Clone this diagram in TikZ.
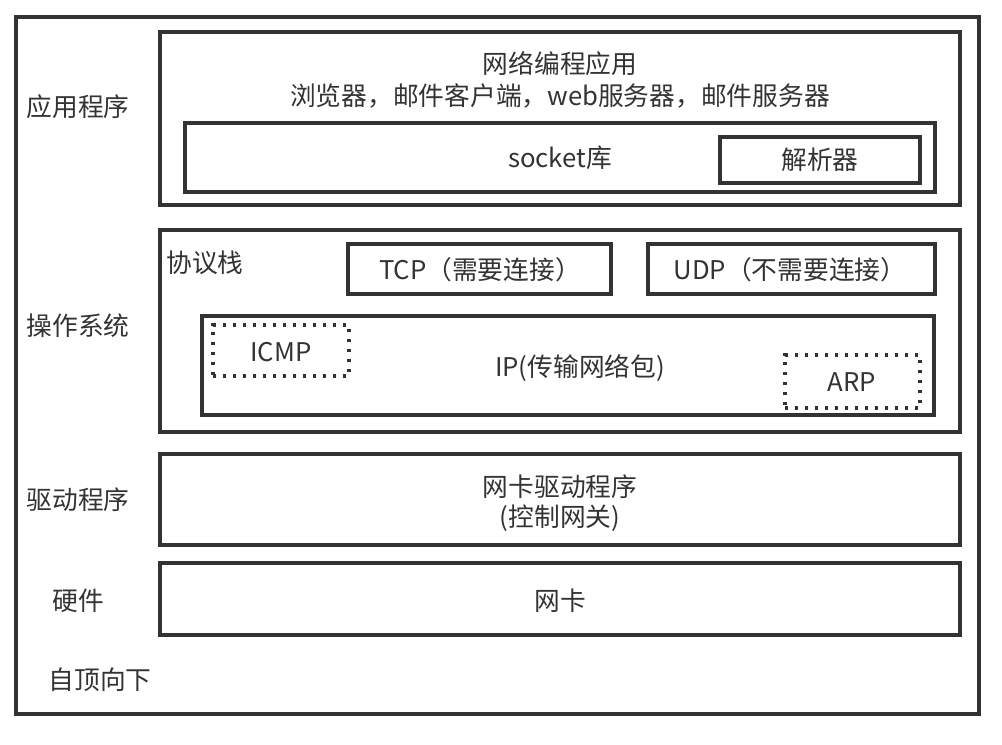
\documentclass[tikz,border=0pt]{standalone}
\usepackage{fontspec}
\setmainfont{Noto Sans CJK SC}
\usetikzlibrary{fit}
\definecolor{ink}{HTML}{333333}
\begin{document}
\begin{tikzpicture}[x=0.75pt,y=-0.75pt,
  box/.style={draw=ink, line width=3pt, inner sep=0pt},
  dotbox/.style={draw=ink, line width=2.5pt, inner sep=0pt, dash pattern=on 2.5pt off 5pt},
  lbl/.style={text=ink, font=\fontsize{19.3}{24}\selectfont, inner sep=0pt, align=center}]
\useasboundingbox (0,0) rectangle (1002,744);
\node[box, fit={(16,17) (979,714)}] (outer) {};
% application layer
\node[box, fit={(160,32) (960,205)}] (app) {};
\node[box, fit={(185,123) (935,192)}] (sock) {};
\node[box, fit={(720,137) (920,183)}] (resolver) {};
% OS layer
\node[box, fit={(160,230) (960,432)}] (os) {};
\node[box, fit={(348,244) (611,294)}] (tcp) {};
\node[box, fit={(648,244) (935,294)}] (udp) {};
\node[box, fit={(202,316) (934,415)}] (ip) {};
\node[dotbox, fit={(213,325) (349,376)}] (icmp) {};
\node[dotbox, fit={(785,355) (920,408)}] (arp) {};
% driver and hardware
\node[box, fit={(160,454) (960,545)}] (drv) {};
\node[box, fit={(160,563) (960,635)}] (nic) {};
% labels
\node[lbl] (l1) at (78,107) {应用程序};
\node[lbl] (l2) at (78,326) {操作系统};
\node[lbl] (l3) at (78,500) {驱动程序};
\node[lbl] (l4) at (78,601) {硬件};
\node[lbl] (l5) at (100,680) {自顶向下};
\node[lbl] (t1) at (560,64) {网络编程应用};
\node[lbl] (t2) at (560,96) {浏览器，邮件客户端，web服务器，邮件服务器};
\node[lbl] (t3) at (560,158) {socket库};
\node[lbl] (t4) at (820,160) {解析器};
\node[lbl] (t5) at (205,263) {协议栈};
\node[lbl] (t6) at (480,270) {TCP（需要连接）};
\node[lbl] (t7) at (790,270) {UDP（不需要连接）};
\node[lbl] (t8) at (281,352) {ICMP};
\node[lbl] (t9) at (580,368) {IP(传输网络包)};
\node[lbl] (t10) at (852,382) {ARP};
\node[lbl] (t11) at (560,487) {网卡驱动程序};
\node[lbl] (t12) at (560,518) {(控制网关)};
\node[lbl] (t13) at (560,601) {网卡};
\end{tikzpicture}
\end{document}
